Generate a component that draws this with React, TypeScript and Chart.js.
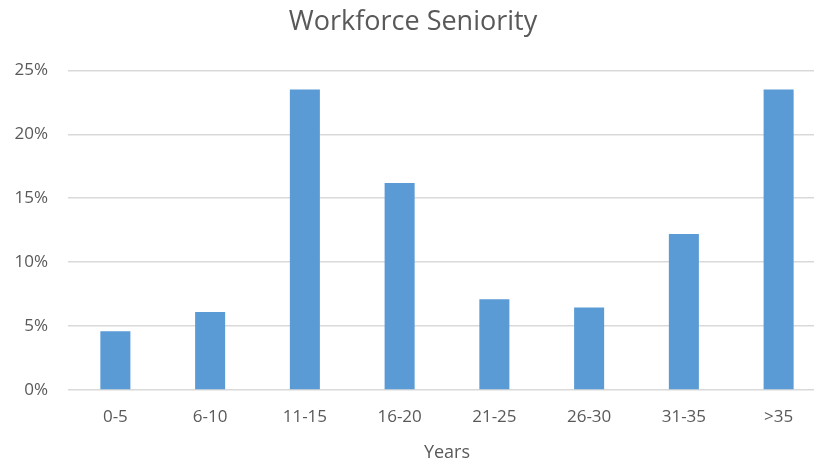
import React, { useEffect, useRef } from "react";
import { Chart, registerables } from "chart.js";

Chart.register(...registerables);

const categories = ["0-5", "6-10", "11-15", "16-20", "21-25", "26-30", "31-35", ">35"];
const seniorityPct = [4.6, 6.1, 23.5, 16.2, 7.1, 6.45, 12.2, 23.5];
const yTicks = [0, 5, 10, 15, 20, 25];

export default function App() {
  const ref = useRef<HTMLCanvasElement | null>(null);
  useEffect(() => {
    if (!ref.current) return;
    const font = "'Open Sans', 'DejaVu Sans', sans-serif";
    const chart = new Chart(ref.current, {
      type: "bar",
      data: {
        labels: categories,
        datasets: [
          {
            label: "Seniority",
            data: seniorityPct,
            backgroundColor: "#5b9bd5",
            borderWidth: 0,
            barPercentage: 0.317,
            categoryPercentage: 1,
          },
        ],
      },
      options: {
        responsive: false,
        animation: false,
        layout: { padding: { left: 0, right: 21, top: 0, bottom: 0 } },
        plugins: {
          legend: { display: false },
          tooltip: { enabled: false },
          title: {
            display: true,
            text: "Workforce Seniority",
            color: "#595959",
            font: { family: font, size: 27, weight: "normal" },
            padding: { top: 6, bottom: 32 },
          },
        },
        scales: {
          x: {
            grid: { display: false, drawTicks: false },
            border: { display: false },
            ticks: {
              color: "#595959",
              font: { family: font, size: 17 },
              padding: 17,
              maxRotation: 0,
            },
            title: {
              display: true,
              text: "Years",
              color: "#595959",
              font: { family: font, size: 18, lineHeight: 1.0 },
              padding: { top: 4, bottom: 0 },
            },
            afterFit: (s: any) => {
              s.height = 72;
            },
          },
          y: {
            min: 0,
            max: 25,
            afterBuildTicks: (s: any) => {
              s.ticks = yTicks.map((v) => ({ value: v }));
            },
            grid: { color: "#d9d9d9", lineWidth: 1.5, drawTicks: false },
            border: { display: false },
            ticks: {
              color: "#595959",
              font: { family: font, size: 17 },
              padding: 20,
              callback: (v: any) => v + "%",
            },
            afterFit: (s: any) => {
              s.width = 68;
            },
          },
        },
      },
    });
    return () => chart.destroy();
  }, []);
  return (
    <div
      style={{
        position: "absolute",
        left: 0,
        top: 0,
        width: 814,
        height: 462,
        overflow: "hidden",
        background: "#fff",
      }}
    >
      <canvas ref={ref} width={847} height={462} style={{ display: "block" }} />
    </div>
  );
}
